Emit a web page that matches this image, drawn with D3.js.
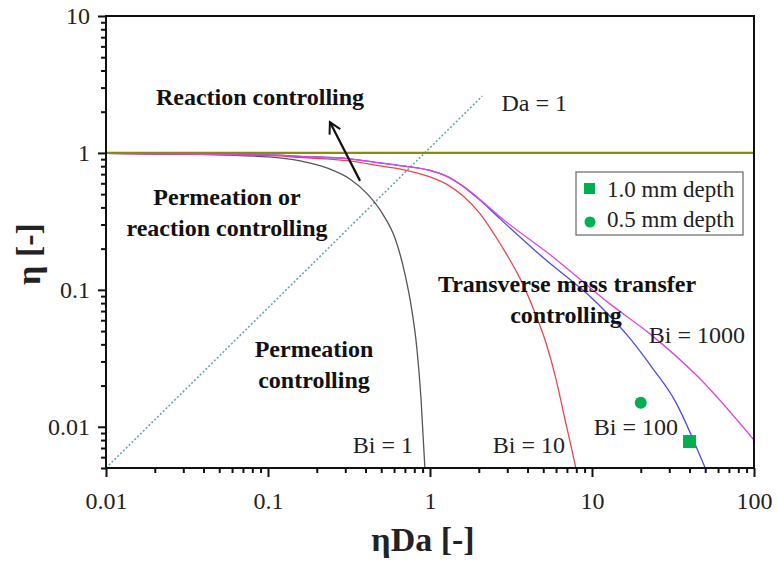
<!DOCTYPE html>
<html lang="en">
<head>
<meta charset="UTF-8">
<title>Effectiveness factor</title>
<script src="https://d3js.org/d3.v7.min.js"></script>
<style>
  body { margin: 0; background: #fff; }
  svg { font-family: "Liberation Serif", "Times New Roman", serif; }
</style>
</head>
<body>
<svg width="779" height="562"></svg>
<script>
// ---- data ----
const xTickValues = [0.01, 0.1, 1, 10, 100];
const xTickLabels = ["0.01", "0.1", "1", "10", "100"];
const yTickValues = [0.01, 0.1, 1, 10];
const yTickLabels = ["0.01", "0.1", "1", "10"];

// eta vs eta*Da, one curve per Biot number
const bi1 = [[0.01, 0.992], [0.038, 0.975], [0.1, 0.935], [0.158, 0.874], [0.24, 0.764], [0.32, 0.646],
             [0.41, 0.502], [0.51, 0.359], [0.61, 0.236], [0.70, 0.131], [0.77, 0.0729], [0.83, 0.0373],
             [0.88, 0.0161], [0.93, 0.005]];
const bi10 = [[0.01, 0.992], [0.1, 0.959], [0.158, 0.927], [0.32, 0.874], [0.49, 0.804], [0.7, 0.75],
              [1.0, 0.668], [1.3, 0.58], [1.6, 0.485], [2.04, 0.359], [2.71, 0.217], [3.73, 0.111],
              [4.47, 0.067], [5.22, 0.0404], [5.99, 0.0224], [6.8, 0.0114], [7.49, 0.0069], [7.95, 0.005]];
const bi100 = [[0.01, 0.992], [0.1, 0.967], [0.158, 0.943], [0.32, 0.904], [0.49, 0.845], [0.7, 0.8],
               [1.0, 0.745], [1.3, 0.665], [1.6, 0.57], [2.0, 0.46], [2.71, 0.33], [4.99, 0.172],
               [10.7, 0.0805], [17.2, 0.044], [23.8, 0.0265], [33, 0.015], [40.8, 0.0088], [46, 0.0063],
               [50, 0.005]];
const bi1000 = [[0.01, 0.992], [0.1, 0.967], [0.158, 0.943], [0.32, 0.904], [0.49, 0.845], [0.7, 0.8],
                [1.0, 0.745], [1.3, 0.665], [1.6, 0.572], [2.0, 0.465], [2.71, 0.341], [5.74, 0.174],
                [12.9, 0.079], [22.8, 0.0477], [46.4, 0.0224], [100, 0.008]];
const daOne = [[0.01, 0.005], [2.1, 2.6]];
const etaOne = [[0.01, 1.0], [100, 1.0]];
const depth10 = [[40, 0.0078]];   // 1.0 mm depth
const depth05 = [[20, 0.015]];    // 0.5 mm depth
const arrowPts = [[0.37, 0.625], [0.241, 1.68]];

// ---- layout ----
const W = 779, H = 562;
const margin = {top: 16, right: 25, bottom: 94, left: 106};
const width = W - margin.left - margin.right;
const height = H - margin.top - margin.bottom;

const svg = d3.select("svg");
const g = svg.append("g").attr("transform", `translate(${margin.left},${margin.top})`);

const x = d3.scaleLog().domain([0.01, 100]).range([0, width]);
const y = d3.scaleLog().domain([0.005, 10]).range([height, 0]);

const defs = svg.append("defs");
defs.append("clipPath").attr("id", "clip")
    .append("rect").attr("width", width).attr("height", height);

defs.append("marker")
    .attr("id", "arrow")
    .attr("viewBox", "0 0 14 14")
    .attr("refX", 12).attr("refY", 7)
    .attr("markerWidth", 14).attr("markerHeight", 14)
    .attr("markerUnits", "userSpaceOnUse")
    .attr("orient", "auto")
    .append("path")
    .attr("d", "M1,1 L12,7 L1,13")
    .attr("fill", "none")
    .attr("stroke", "#111")
    .attr("stroke-width", 2);

const line = d3.line()
    .x(d => x(d[0]))
    .y(d => y(d[1]))
    .curve(d3.curveMonotoneX);

const plot = g.append("g").attr("clip-path", "url(#clip)");

// Da = 1 dotted line
plot.append("path")
    .datum(daOne)
    .attr("d", d3.line().x(d => x(d[0])).y(d => y(d[1])))
    .attr("fill", "none")
    .attr("stroke", "#6aa6aa")
    .attr("stroke-width", 1.6)
    .attr("stroke-dasharray", "2,2");

// curves
const curves = [
    {data: bi1, color: "#555555"},
    {data: bi10, color: "#f2434f"},
    {data: bi100, color: "#4b4bf0"},
    {data: bi1000, color: "#e045e0"}
];
curves.forEach(c => {
    plot.append("path")
        .datum(c.data)
        .attr("d", line)
        .attr("fill", "none")
        .attr("stroke", c.color)
        .attr("stroke-width", 1.3);
});

// eta = 1 line
plot.append("path")
    .datum(etaOne)
    .attr("d", d3.line().x(d => x(d[0])).y(d => y(d[1])))
    .attr("fill", "none")
    .attr("stroke", "#8a8a10")
    .attr("stroke-width", 2.2);

// measured points
const green = "#00b050";
plot.selectAll("rect.sq")
    .data(depth10)
    .enter()
    .append("rect")
    .attr("class", "sq")
    .attr("x", d => x(d[0]) - 6.5)
    .attr("y", d => y(d[1]) - 6.5)
    .attr("width", 13).attr("height", 13)
    .attr("fill", green);

plot.selectAll("circle.pt")
    .data(depth05)
    .enter()
    .append("circle")
    .attr("class", "pt")
    .attr("cx", d => x(d[0]))
    .attr("cy", d => y(d[1]))
    .attr("r", 6)
    .attr("fill", green);

// arrow
g.append("line")
    .attr("x1", x(arrowPts[0][0])).attr("y1", y(arrowPts[0][1]))
    .attr("x2", x(arrowPts[1][0])).attr("y2", y(arrowPts[1][1]))
    .attr("stroke", "#111")
    .attr("stroke-width", 2.2)
    .attr("marker-end", "url(#arrow)");

// ---- axes ----
const minorX = x.ticks().filter(v => !xTickValues.some(t => Math.abs(t - v) < 1e-9));
const minorY = y.ticks().filter(v => !yTickValues.some(t => Math.abs(t - v) < 1e-9));

const xMinor = g.append("g")
    .attr("transform", `translate(0,${height})`)
    .call(d3.axisBottom(x).tickValues(minorX).tickSize(5).tickSizeOuter(0).tickFormat(""));
const xMajor = g.append("g")
    .attr("transform", `translate(0,${height})`)
    .call(d3.axisBottom(x).tickValues(xTickValues).tickSize(9).tickSizeOuter(0)
        .tickFormat((d, i) => xTickLabels[i]));
const yMinor = g.append("g")
    .call(d3.axisLeft(y).tickValues(minorY).tickSize(5).tickSizeOuter(0).tickFormat(""));
const yMajor = g.append("g")
    .call(d3.axisLeft(y).tickValues(yTickValues).tickSize(8).tickSizeOuter(0).tickPadding(8)
        .tickFormat((d, i) => yTickLabels[i]));

[xMinor, xMajor, yMinor, yMajor].forEach(a => {
    a.attr("font-family", null).attr("font-size", null);
    a.select(".domain").remove();
    a.selectAll(".tick line").attr("stroke", "#111").attr("stroke-width", 2);
    a.selectAll("text").attr("fill", "#222").style("font-size", "24px");
});
xMajor.selectAll("text").attr("y", 41).attr("dy", null);

// frame
g.append("rect")
    .attr("width", width).attr("height", height)
    .attr("fill", "none")
    .attr("stroke", "#111")
    .attr("stroke-width", 2);

// axis titles
svg.append("text")
    .attr("x", 423).attr("y", 551)
    .attr("text-anchor", "middle")
    .style("font-size", "34px").style("font-weight", "bold")
    .attr("fill", "#222")
    .text("ηDa [-]");

svg.append("text")
    .attr("transform", "translate(40,254) rotate(-90)")
    .attr("text-anchor", "middle")
    .style("font-size", "34px").style("font-weight", "bold")
    .attr("fill", "#222")
    .text("η [-]");

// region labels
const bold = [
    {t: "Reaction controlling", x: 260, y: 105},
    {t: "Permeation or", x: 227, y: 205},
    {t: "reaction controlling", x: 227, y: 236},
    {t: "Permeation", x: 314, y: 357},
    {t: "controlling", x: 314, y: 388},
    {t: "Transverse mass transfer", x: 567, y: 292},
    {t: "controlling", x: 566, y: 323}
];
svg.selectAll("text.region")
    .data(bold)
    .enter()
    .append("text")
    .attr("class", "region")
    .attr("x", d => d.x).attr("y", d => d.y)
    .attr("text-anchor", "middle")
    .style("font-size", "24px").style("font-weight", "bold")
    .attr("fill", "#111")
    .text(d => d.t);

const plain = [
    {t: "Bi = 1", x: 413, y: 453},
    {t: "Bi = 10", x: 565, y: 453},
    {t: "Bi = 100", x: 678, y: 435},
    {t: "Bi = 1000", x: 745, y: 343},
    {t: "Da = 1", x: 567, y: 111}
];
svg.selectAll("text.lab")
    .data(plain)
    .enter()
    .append("text")
    .attr("class", "lab")
    .attr("x", d => d.x).attr("y", d => d.y)
    .attr("text-anchor", "end")
    .style("font-size", "24px")
    .attr("fill", "#222")
    .text(d => d.t);

// legend
const leg = svg.append("g").attr("transform", "translate(576,172)");
leg.append("rect")
    .attr("width", 167).attr("height", 63)
    .attr("fill", "#fff")
    .attr("stroke", "#666")
    .attr("stroke-width", 1.2);
leg.append("rect")
    .attr("x", 8).attr("y", 11).attr("width", 11).attr("height", 11)
    .attr("fill", green);
leg.append("circle")
    .attr("cx", 14).attr("cy", 50).attr("r", 5.5)
    .attr("fill", green);
leg.append("text").attr("x", 31).attr("y", 25)
    .style("font-size", "23px").attr("fill", "#222").text("1.0 mm depth");
leg.append("text").attr("x", 31).attr("y", 55)
    .style("font-size", "23px").attr("fill", "#222").text("0.5 mm depth");
</script>
</body>
</html>
